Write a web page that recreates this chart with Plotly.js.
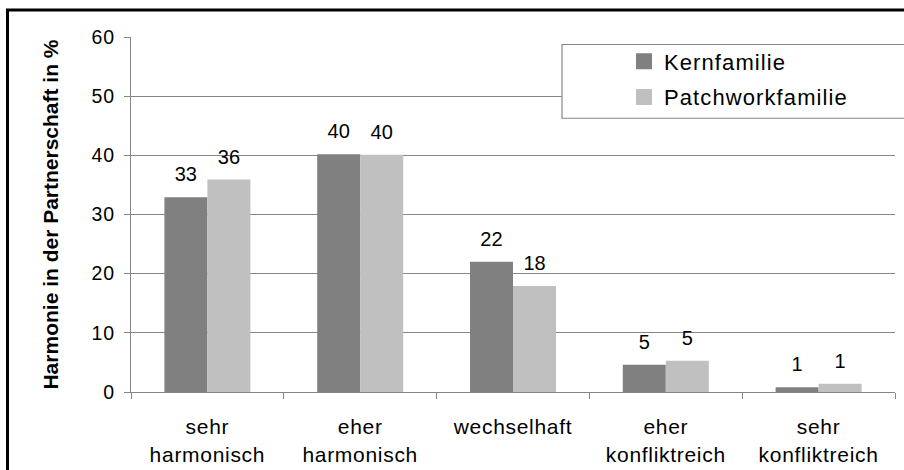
<!DOCTYPE html>
<html>
<head>
<meta charset="utf-8">
<script src="https://cdn.plot.ly/plotly-3.0.1.min.js"></script>
<style>
  html, body { margin: 0; padding: 0; background: #fff; overflow: hidden; }
  #chart { width: 904px; height: 470px; }
  .xtick text { letter-spacing: 0.7px; }
  .ytick text { letter-spacing: 1px; }
  .legendtext { letter-spacing: 1.1px; }
</style>
</head>
<body>
<div id="chart"></div>
<script>
// ---- data ----
const categories = ["sehr<br>harmonisch", "eher<br>harmonisch", "wechselhaft", "eher<br>konfliktreich", "sehr<br>konfliktreich"];
const seriesNames = ["Kernfamilie", "Patchworkfamilie"];
const kernValues = [32.9, 40.2, 22.0, 4.6, 0.8];
const patchValues = [35.9, 40.1, 17.9, 5.3, 1.4];
const kernLabels = ["33", "40", "22", "5", "1"];
const patchLabels = ["36", "40", "18", "5", "1"];
const yTickVals = [0, 10, 20, 30, 40, 50, 60];
const yTitle = "Harmonie in der Partnerschaft in %";

const colors = ["#808080", "#C0C0C0"];
const gridGray = "#868686";
const fontFam = "'Liberation Sans', Arial, sans-serif";

const series = [
  {name: seriesNames[0], values: kernValues, labels: kernLabels, color: colors[0], group: "g1"},
  {name: seriesNames[1], values: patchValues, labels: patchLabels, color: colors[1], group: "g2"}
];

const traces = [];
// bars
series.forEach(s => {
  traces.push({
    type: "bar", x: categories, y: s.values, name: s.name,
    marker: {color: s.color, line: {width: 0}},
    offsetgroup: s.group, hoverinfo: "skip", showlegend: false
  });
});
// value labels above bars
series.forEach(s => {
  traces.push({
    type: "scatter", mode: "markers+text", x: categories, y: s.values,
    text: s.labels, textposition: "top center",
    textfont: {family: fontFam, size: 20, color: "#000"},
    marker: {size: 16, color: "rgba(0,0,0,0)"},
    offsetgroup: s.group, showlegend: false, hoverinfo: "skip", cliponaxis: false
  });
});
// legend entries (square swatches)
series.forEach(s => {
  traces.push({
    type: "scatter", mode: "markers", x: [null], y: [null], name: s.name,
    marker: {symbol: "square", size: 16, color: s.color},
    offsetgroup: s.group, legendgroup: s.group, showlegend: true, hoverinfo: "skip"
  });
});

const L = 131, R = 895, T = 36.5, B = 392.5;
const px2x = px => (px - L) / (R - L);
const px2y = py => (B - py) / (B - T);

const layout = {
  width: 904, height: 470,
  margin: {l: L, r: 904 - R, t: T, b: 470 - B, pad: 0},
  paper_bgcolor: "#fff", plot_bgcolor: "#fff",
  font: {family: fontFam, color: "#000"},
  barmode: "group", bargap: 0.437, bargroupgap: 0,
  scattermode: "group", scattergap: 0.437,
  showlegend: true,
  legend: {
    x: px2x(624), y: px2y(40), xanchor: "left", yanchor: "top",
    bgcolor: "rgba(0,0,0,0)", borderwidth: 0,
    font: {family: fontFam, size: 22, color: "#000"},
    traceorder: "grouped", tracegroupgap: 4
  },
  xaxis: {
    type: "category", showgrid: false, zeroline: false,
    showline: true, linecolor: gridGray, linewidth: 1,
    ticks: "outside", ticklen: 6, tickcolor: gridGray, tickwidth: 1,
    tickson: "boundaries",
    tickfont: {family: fontFam, size: 21, color: "#000"},
    ticklabelstandoff: 16,
    automargin: false
  },
  yaxis: {
    range: [0, 60], tickvals: yTickVals, ticktext: yTickVals.map(String),
    showgrid: true, gridcolor: gridGray, gridwidth: 1, zeroline: false,
    showline: true, linecolor: gridGray, linewidth: 1,
    ticks: "outside", ticklen: 6, tickcolor: gridGray, tickwidth: 1,
    tickfont: {family: fontFam, size: 19.5, color: "#000"},
    ticklabelstandoff: 5,
    title: {text: yTitle, font: {family: fontFam, size: 21, weight: "bold", color: "#000"}, standoff: 27},
    automargin: false
  },
  shapes: [
    {type: "rect", xref: "paper", yref: "paper",
     x0: px2x(562), x1: px2x(1000), y0: px2y(118), y1: px2y(44),
     line: {color: gridGray, width: 1.2}, fillcolor: "#fff", layer: "above"},
    {type: "rect", xref: "paper", yref: "paper",
     x0: px2x(7.5), x1: px2x(1100), y0: px2y(700), y1: px2y(9.5),
     line: {color: "#000", width: 3}, fillcolor: "rgba(0,0,0,0)", layer: "above"}
  ]
};

Plotly.newPlot("chart", traces, layout, {displayModeBar: false, staticPlot: true});
</script>
</body>
</html>
